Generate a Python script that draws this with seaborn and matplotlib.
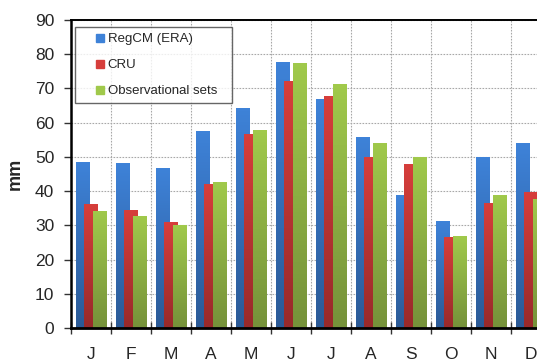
"""
Monthly precipitation: RegCM (ERA) vs CRU vs observational sets.
"""

import matplotlib
matplotlib.use("Agg")
import matplotlib.pyplot as plt
import numpy as np
import pandas as pd
import seaborn as sns
from matplotlib.colors import LinearSegmentedColormap
from matplotlib.lines import Line2D
from matplotlib.ticker import MultipleLocator, FixedLocator

months = ["J", "F", "M", "A", "M", "J", "J", "A", "S", "O", "N", "D"]
sources = ["RegCM (ERA)", "CRU", "Observational sets"]

regcm = [48.4, 48.2, 46.7, 57.5, 64.2, 77.7, 66.9, 55.8, 38.8, 31.2, 49.9, 54.0]
cru = [36.2, 34.4, 30.9, 42.0, 56.6, 72.1, 67.8, 49.9, 47.9, 26.5, 36.5, 39.7]
obs = [34.2, 32.7, 30.0, 42.6, 57.8, 77.4, 71.2, 54.0, 49.9, 26.8, 38.8, 37.6]

# (flat, top, bottom) colours per series
colors = {
    "RegCM (ERA)": ("#3a7cd0", "#3e82d8", "#2b5a96"),
    "CRU": ("#cf3b39", "#d63e3b", "#982a2a"),
    "Observational sets": ("#9bc447", "#a0c94b", "#76923a"),
}

df = pd.DataFrame({
    "pos": list(range(12)) * 3,
    "mm": regcm + cru + obs,
    "source": np.repeat(sources, 12),
})

sns.set_theme(style="white")
plt.rcParams["font.family"] = ["Liberation Sans", "DejaVu Sans"]

fig = plt.figure(figsize=(5.37, 3.63), dpi=100)
ax = fig.add_axes([71 / 537, 1 - 328 / 363, 480 / 537, 308 / 363])

sns.barplot(data=df, x="pos", y="mm", hue="source", hue_order=sources,
            palette={k: v[0] for k, v in colors.items()},
            dodge=True, width=0.645, gap=0, legend=False, ax=ax,
            errorbar=None, saturation=1)

# widen the dodged bars so they overlap, and shade them top-to-bottom
bar_w = 0.34
grad = np.linspace(0, 1, 64).reshape(-1, 1)
for lvl, (src, cont) in enumerate(zip(sources, ax.containers)):
    _, top, bottom = colors[src]
    cmap = LinearSegmentedColormap.from_list(src, [bottom, top])
    for bar in cont:
        cx = bar.get_x() + bar.get_width() / 2
        bar.set_x(cx - bar_w / 2)
        bar.set_width(bar_w)
        bar.set_linewidth(0)
        x0, h = bar.get_x(), bar.get_height()
        im = ax.imshow(grad, cmap=cmap, origin="lower", aspect="auto",
                       extent=(x0, x0 + bar_w, 0, h), zorder=2 + lvl * 0.1)
        im.set_clip_path(bar)

ax.set_xlim(-0.5, 11.5)
ax.set_ylim(0, 90)
ax.set_aspect("auto")

ax.yaxis.set_major_locator(MultipleLocator(10))
ax.set_xticks(range(12))
ax.set_xticklabels(months)
ax.xaxis.set_minor_locator(FixedLocator(np.arange(-0.5, 12, 1)))

ax.set_axisbelow(True)
ax.grid(True, axis="y", which="major", color="#a8a8a8", ls=(0, (1.5, 1.2)), lw=0.8)
ax.grid(True, axis="x", which="minor", color="#a8a8a8", ls=(0, (1.5, 1.2)), lw=0.8)
ax.grid(False, axis="x", which="major")

ax.tick_params(axis="y", which="major", direction="out", length=5, width=1,
               color="#333333", pad=7, labelsize=12.5, left=True)
ax.tick_params(axis="x", which="major", length=0, pad=14, labelsize=12.5)
ax.tick_params(axis="x", which="minor", direction="inout", length=8, width=1,
               color="#333333", bottom=True)

for side in ["left", "bottom", "top"]:
    ax.spines[side].set_color("black")
ax.spines["left"].set_linewidth(1.8)
ax.spines["bottom"].set_linewidth(2)
ax.spines["top"].set_linewidth(1.4)

ax.set_xlabel("")
ax.set_ylabel("mm", fontsize=13, fontweight="bold", labelpad=8)

handles = [Line2D([], [], marker="s", ls="", markersize=6,
                  color=colors[s][1]) for s in sources]
leg = ax.legend(handles, sources, loc="upper left",
                bbox_to_anchor=(0.008, 0.977 - 0.234, 0.327, 0.234),
                mode="expand", borderaxespad=0, fontsize=9.5,
                frameon=True, fancybox=False, edgecolor="#404040",
                borderpad=0.45, handlelength=2.9, handletextpad=-0.85,
                labelspacing=1.05)
leg.get_frame().set_linewidth(1)
leg.set_zorder(5)

fig.savefig("out.png", dpi=100)
